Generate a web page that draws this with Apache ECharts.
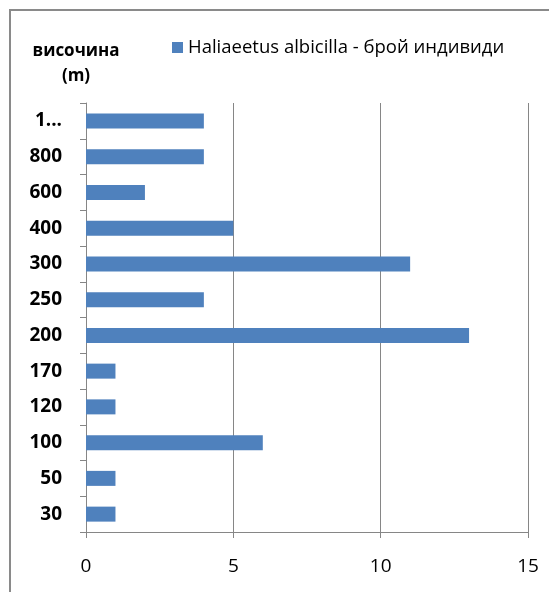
<!DOCTYPE html>
<html>
<head>
<meta charset="utf-8">
<script src="https://cdn.jsdelivr.net/npm/echarts@6/dist/echarts.min.js"></script>
<style>
html,body{margin:0;padding:0;background:#fff;}
#main{width:549px;height:592px;}
</style>
</head>
<body>
<div id="main"></div>
<script>
var categories = ['30', '50', '100', '120', '170', '200', '250', '300', '400', '600', '800', '1...'];
var seriesName = 'Haliaeetus albicilla - брой индивиди';
var values = [1, 1, 6, 1, 1, 13, 4, 11, 5, 2, 4, 4];
var xTicks = [0, 5, 10, 15];
var titleLines = ['височина', '(m)'];

var FONT = '"Open Sans", "Noto Sans", sans-serif';
var chart = echarts.init(document.getElementById('main'), null, {renderer: 'canvas'});
chart.setOption({
  animation: false,
  backgroundColor: '#ffffff',
  grid: {left: 86, right: 21, top: 103, bottom: 60, containLabel: false},
  legend: {
    data: [seriesName],
    left: 167, top: 33,
    icon: 'rect', itemWidth: 11, itemHeight: 11, itemGap: 5,
    textStyle: {fontFamily: FONT, fontSize: 18.5, color: '#000'}
  },
  graphic: [
    {type: 'polyline', shape: {points: [[10, 592], [10, 10], [549, 10]]}, style: {stroke: '#8a8a8a', lineWidth: 2, fill: null}, silent: true},
    {type: 'text', x: 76, y: 51, style: {text: titleLines[0], fontFamily: FONT, fontWeight: 'bold', fontSize: 17, fill: '#000', align: 'center', verticalAlign: 'middle'}},
    {type: 'text', x: 76, y: 76, style: {text: titleLines[1], fontFamily: FONT, fontWeight: 'bold', fontSize: 17, fill: '#000', align: 'center', verticalAlign: 'middle'}}
  ],
  xAxis: {
    type: 'value', min: xTicks[0], max: xTicks[xTicks.length - 1], interval: xTicks[1] - xTicks[0],
    axisLine: {show: true, lineStyle: {color: '#868686', width: 1}},
    axisTick: {show: true, length: 6, lineStyle: {color: '#868686'}},
    splitLine: {show: true, lineStyle: {color: '#868686', width: 1}},
    axisLabel: {margin: 25, fontFamily: FONT, fontSize: 19, color: '#000'}
  },
  yAxis: {
    type: 'category', data: categories,
    axisLine: {show: true, lineStyle: {color: '#868686', width: 1}},
    axisTick: {show: true, length: 6, interval: 0, lineStyle: {color: '#868686'}},
    splitLine: {show: false},
    axisLabel: {margin: 24, interval: 0, fontFamily: FONT, fontWeight: 'bold', fontSize: 19, color: '#000'}
  },
  series: [{
    name: seriesName, type: 'bar', data: values, barWidth: 15,
    itemStyle: {color: '#4F81BD'}
  }]
});
</script>
</body>
</html>
